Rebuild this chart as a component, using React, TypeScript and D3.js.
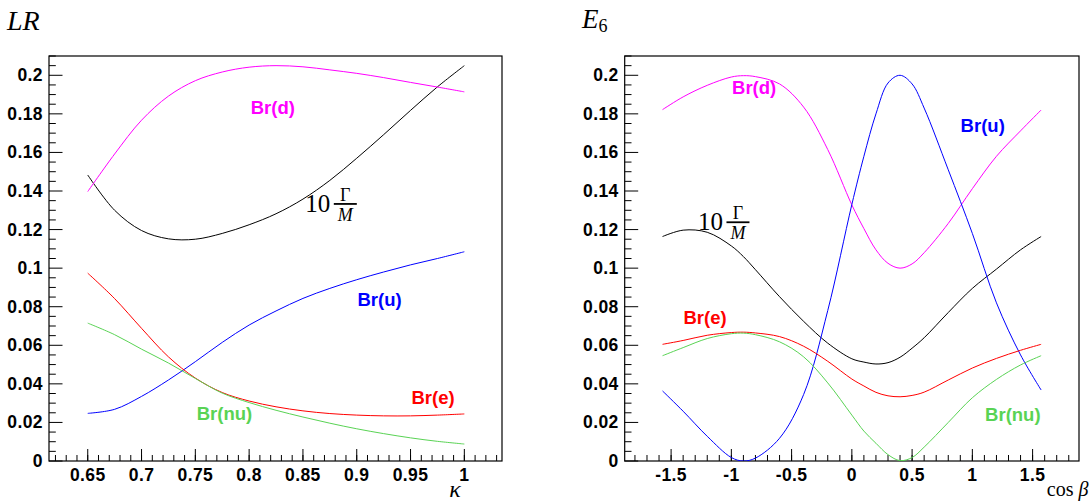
import React from "react";
import * as d3 from "d3";

// ---------------- DATA ----------------
// Left panel (LR model): x = kappa
const kappa = [0.65, 0.675, 0.7, 0.725, 0.75, 0.775, 0.8, 0.825, 0.85, 0.875, 0.9, 0.925, 0.95, 0.975, 1.0];
const lrBrD = [0.1397, 0.1592, 0.1767, 0.1892, 0.1972, 0.2017, 0.2042, 0.205, 0.2044, 0.2028, 0.201, 0.1988, 0.1963, 0.1939, 0.1914];
const lrBrU = [0.0247, 0.0268, 0.0335, 0.042, 0.0515, 0.0615, 0.0705, 0.0778, 0.0843, 0.0895, 0.094, 0.098, 0.1017, 0.105, 0.1085];
const lrBrE = [0.0974, 0.0842, 0.0688, 0.054, 0.043, 0.0355, 0.0311, 0.0281, 0.026, 0.0246, 0.0238, 0.0234, 0.0234, 0.0238, 0.0244];
const lrBrNu = [0.0715, 0.0655, 0.058, 0.0508, 0.0428, 0.0352, 0.0303, 0.0263, 0.0228, 0.0196, 0.0167, 0.0142, 0.012, 0.0102, 0.0088];
const lrWidth = [0.1483, 0.13, 0.1195, 0.1152, 0.115, 0.118, 0.1225, 0.1282, 0.1358, 0.1455, 0.157, 0.1692, 0.1818, 0.194, 0.205];

// Right panel (E6 model): x = beta
const beta = [-1.5708, -1.4, -1.2, -1.0, -0.9, -0.8, -0.6, -0.4, -0.2, 0, 0.1, 0.2, 0.3, 0.4, 0.5, 0.6, 0.8, 1.0, 1.2, 1.4, 1.5708];
const e6BrD = [0.1822, 0.1888, 0.1948, 0.1991, 0.1998, 0.1993, 0.1955, 0.1835, 0.1615, 0.1328, 0.1205, 0.1095, 0.1025, 0.1, 0.1022, 0.108, 0.1232, 0.1412, 0.158, 0.1712, 0.182];
const e6BrU = [0.0363, 0.0258, 0.0128, 0.0018, 0.0, 0.0015, 0.0118, 0.0345, 0.078, 0.133, 0.158, 0.18, 0.196, 0.2, 0.1955, 0.183, 0.151, 0.118, 0.082, 0.055, 0.0368];
const e6BrE = [0.0605, 0.0625, 0.0652, 0.0666, 0.0668, 0.0664, 0.0645, 0.0595, 0.0517, 0.0425, 0.0389, 0.0356, 0.0338, 0.0333, 0.034, 0.0357, 0.042, 0.0482, 0.0532, 0.0574, 0.0605];
const e6BrNu = [0.0546, 0.0588, 0.0635, 0.066, 0.0663, 0.0655, 0.0618, 0.054, 0.0405, 0.0238, 0.0155, 0.0092, 0.0033, 0.0002, 0.0018, 0.0072, 0.02, 0.0328, 0.0423, 0.0498, 0.0546];
const e6Width = [0.1164, 0.1197, 0.1186, 0.1115, 0.106, 0.0992, 0.0852, 0.0724, 0.0611, 0.053, 0.0513, 0.0503, 0.051, 0.0538, 0.0585, 0.0639, 0.077, 0.0895, 0.0995, 0.1095, 0.1164];

// Ticks
const yTicks = [0, 0.02, 0.04, 0.06, 0.08, 0.1, 0.12, 0.14, 0.16, 0.18, 0.2];
const yTickLabels = ["0", "0.02", "0.04", "0.06", "0.08", "0.1", "0.12", "0.14", "0.16", "0.18", "0.2"];
const lrXTicks = [0.65, 0.7, 0.75, 0.8, 0.85, 0.9, 0.95, 1.0];
const lrXTickLabels = ["0.65", "0.7", "0.75", "0.8", "0.85", "0.9", "0.95", "1"];
const e6XTicks = [-1.5, -1, -0.5, 0, 0.5, 1, 1.5];
const e6XTickLabels = ["-1.5", "-1", "-0.5", "0", "0.5", "1", "1.5"];

// Series names
const seriesNames = ["Br(d)", "Br(u)", "Br(e)", "Br(nu)"];

// ---------------- STYLE ----------------
const COLORS: Record<string, string> = {
  "Br(d)": "#ff00ff",
  "Br(u)": "#0000ff",
  "Br(e)": "#ff0000",
  "Br(nu)": "#59d354",
  width: "#000000",
};

const SANS = "'Liberation Sans', Arial, Helvetica, sans-serif";
const SERIF = "'Liberation Serif', 'Times New Roman', Times, serif";

type PanelCfg = {
  x0: number; x1: number; y0: number; y1: number;
  xDomain: [number, number];
  xs: number[];
  series: number[][]; // d,u,e,nu
  width: number[];
  xTicks: number[]; xTickLabels: string[];
  xMinorStart: number; xMinorEnd: number; xMinorStep: number;
  labelPos: [number, number][]; // data coords for series labels (center x, baseline y)
  widthLabel: [number, number]; // data coords: start x of "10", baseline
  title: React.ReactNode;
  axisTitle: React.ReactNode;
};

function Panel({ cfg }: { cfg: PanelCfg }) {
  const x = d3.scaleLinear().domain(cfg.xDomain).range([cfg.x0, cfg.x1]);
  const y = d3.scaleLinear().domain([0, 0.21]).range([cfg.y1, cfg.y0]);
  const mk = (ys: number[]) =>
    d3.line<number>()
      .x((_, i) => x(cfg.xs[i]))
      .y((d) => y(d))
      .curve(d3.curveCatmullRom.alpha(0.5))(ys) || "";

  const yMinor: number[] = [];
  for (let i = 0; i <= 42; i++) if (i % 4 !== 0) yMinor.push(i * 0.005);
  const xMinor: number[] = [];
  const nA = Math.round(cfg.xMinorStart / cfg.xMinorStep);
  const nB = Math.round(cfg.xMinorEnd / cfg.xMinorStep);
  for (let i = nA; i <= nB; i++) xMinor.push(i * cfg.xMinorStep);

  const [wx, wy] = cfg.widthLabel;
  const lx = x(wx);
  const ly = y(wy);
  const clipId = "clip" + Math.round(cfg.x0);

  return (
    <g>
      <defs>
        <clipPath id={clipId}>
          <rect x={cfg.x0} y={cfg.y0} width={cfg.x1 - cfg.x0} height={cfg.y1 - cfg.y0} />
        </clipPath>
      </defs>
      {/* frame */}
      <rect x={cfg.x0} y={cfg.y0} width={cfg.x1 - cfg.x0} height={cfg.y1 - cfg.y0}
        fill="none" stroke="#000" strokeWidth={1.2} />
      {/* y ticks */}
      {yTicks.map((t) => (
        <line key={"ym" + t} x1={cfg.x0} x2={cfg.x0 + 13.5} y1={y(t)} y2={y(t)} stroke="#000" strokeWidth={1} />
      ))}
      {yMinor.map((t) => (
        <line key={"yn" + t} x1={cfg.x0} x2={cfg.x0 + 6.8} y1={y(t)} y2={y(t)} stroke="#000" strokeWidth={1} />
      ))}
      {yTicks.map((t, i) => (
        <text key={"yl" + t} x={cfg.x0 - 6} y={y(t) + 6} textAnchor="end"
          fontFamily={SANS} fontWeight="bold" fontSize={17.5} letterSpacing={0.4}>{yTickLabels[i]}</text>
      ))}
      {/* x ticks */}
      {cfg.xTicks.map((t) => (
        <line key={"xm" + t} x1={x(t)} x2={x(t)} y1={cfg.y1} y2={cfg.y1 - 12} stroke="#000" strokeWidth={1} />
      ))}
      {xMinor.map((t) => (
        <line key={"xn" + t} x1={x(t)} x2={x(t)} y1={cfg.y1} y2={cfg.y1 - 6} stroke="#000" strokeWidth={1} />
      ))}
      {cfg.xTicks.map((t, i) => (
        <text key={"xl" + t} x={x(t)} y={480.5} textAnchor="middle"
          fontFamily={SANS} fontWeight="bold" fontSize={17.5} letterSpacing={0.4}>{cfg.xTickLabels[i]}</text>
      ))}
      {/* curves */}
      <g clipPath={`url(#${clipId})`}>
        <path d={mk(cfg.width)} fill="none" stroke={COLORS.width} strokeWidth={1} />
        {cfg.series.map((s, i) => (
          <path key={"s" + i} d={mk(s)} fill="none" stroke={COLORS[seriesNames[i]]} strokeWidth={1} />
        ))}
      </g>
      {/* series labels */}
      {seriesNames.map((n, i) => (
        <text key={"lab" + n} x={x(cfg.labelPos[i][0])} y={y(cfg.labelPos[i][1])} textAnchor="middle"
          fontFamily={SANS} fontWeight="bold" fontSize={18.5} fill={COLORS[n]}>{n}</text>
      ))}
      {/* 10 Gamma / M */}
      <g fontFamily={SERIF}>
        <text x={lx} y={ly} fontSize={25}>10</text>
        <line x1={lx + 28.5} x2={lx + 51.5} y1={ly - 7.7} y2={ly - 7.7} stroke="#000" strokeWidth={1.8} />
        <text x={lx + 40} y={ly - 10.5} fontSize={18} textAnchor="middle">Γ</text>
        <text x={lx + 40} y={ly + 9} fontSize={18} fontStyle="italic" textAnchor="middle">M</text>
      </g>
      {cfg.title}
      {cfg.axisTitle}
    </g>
  );
}

const leftCfg: PanelCfg = {
  x0: 49, x1: 502, y0: 56, y1: 461,
  xDomain: [0.614, 1.035],
  xs: kappa,
  series: [lrBrD, lrBrU, lrBrE, lrBrNu],
  width: lrWidth,
  xTicks: lrXTicks, xTickLabels: lrXTickLabels,
  xMinorStart: 0.62, xMinorEnd: 1.03, xMinorStep: 0.01,
  labelPos: [[0.822, 0.1797], [0.9212, 0.0804], [0.9709, 0.0298], [0.7771, 0.0213]],
  widthLabel: [0.8522, 0.1293],
  title: (
    <text x={7} y={29.5} fontFamily={SERIF} fontStyle="italic" fontSize={28}>LR</text>
  ),
  axisTitle: (
    <text x={455} y={497} textAnchor="middle" fontFamily={SERIF} fontStyle="italic" fontSize={24}>κ</text>
  ),
};

const rightCfg: PanelCfg = {
  x0: 624.7, x1: 1079, y0: 56, y1: 461,
  xDomain: [-1.885, 1.885],
  xs: beta,
  series: [e6BrD, e6BrU, e6BrE, e6BrNu],
  width: e6Width,
  xTicks: e6XTicks, xTickLabels: e6XTickLabels,
  xMinorStart: -1.8, xMinorEnd: 1.8, xMinorStep: 0.1,
  labelPos: [[-0.811, 0.1903], [1.086, 0.1708], [-1.218, 0.0708], [1.336, 0.0207]],
  widthLabel: [-1.277, 0.1198],
  title: (
    <g fontFamily={SERIF}>
      <text x={582} y={28.3} fontStyle="italic" fontSize={27}>E</text>
      <text x={598.5} y={32} fontSize={18}>6</text>
    </g>
  ),
  axisTitle: (
    <text x={1088.5} y={496} textAnchor="end" fontFamily={SERIF} fontSize={20}>
      cos <tspan fontStyle="italic">β</tspan>
    </text>
  ),
};

export default function App() {
  return (
    <svg width={1089} height={501} viewBox="0 0 1089 501"
      style={{ position: "absolute", left: 0, top: 0, background: "#fff" }}>
      <rect x={0} y={0} width={1089} height={501} fill="#fff" />
      <Panel cfg={leftCfg} />
      <Panel cfg={rightCfg} />
    </svg>
  );
}
